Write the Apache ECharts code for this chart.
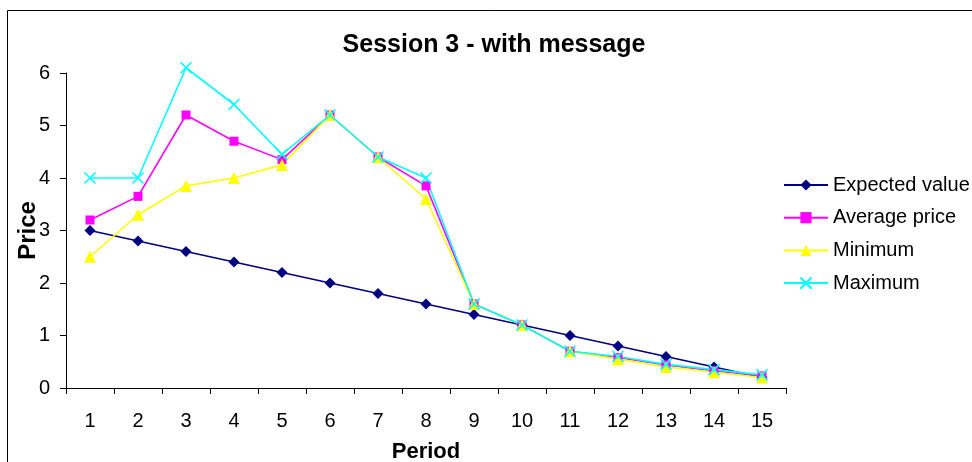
<!DOCTYPE html>
<html><head><meta charset="utf-8">
<script src="https://cdn.jsdelivr.net/npm/echarts@6/dist/echarts.min.js"></script>
<style>html,body{margin:0;padding:0;background:#fff}#c{width:972px;height:462px}</style>
</head><body><div id="c"></div>
<script>
const periods = ['1','2','3','4','5','6','7','8','9','10','11','12','13','14','15'];
const expectedValue = [3.0,2.8,2.6,2.4,2.2,2.0,1.8,1.6,1.4,1.2,1.0,0.8,0.6,0.4,0.2];
const averagePrice = [3.2,3.65,5.2,4.7,4.35,5.2,4.4,3.85,1.6,1.2,0.7,0.58,0.44,0.33,0.23];
const minimum = [2.5,3.3,3.85,4.0,4.25,5.2,4.4,3.6,1.6,1.2,0.7,0.55,0.4,0.3,0.2];
const maximum = [4.0,4.0,6.1,5.4,4.45,5.2,4.4,4.0,1.6,1.2,0.7,0.6,0.45,0.35,0.25];
const yTicks = [0,1,2,3,4,5,6];

const font = 'Liberation Sans, Arial, sans-serif';
const chart = echarts.init(document.getElementById('c'), null, {renderer:'canvas'});
function mk(name, data, color, symbol, size, extra){
  return Object.assign({
    name, type:'line', data, symbol, symbolSize:size, clip:false,
    lineStyle:{color, width:1.6},
    itemStyle:{color, borderColor:color, borderWidth:0},
    emphasis:{disabled:true}, animation:false
  }, extra||{});
}
chart.setOption({
  backgroundColor:'#fff',
  animation:false,
  title:{text:'Session 3 - with message', left:489, top:28, textAlign:'center',
    textStyle:{fontFamily:font, fontWeight:'bold', fontSize:25, color:'#000'}},
  graphic:[{type:'rect', shape:{x:7.5,y:10.5,width:1000,height:500}, style:{fill:'none', stroke:'#000', lineWidth:1}, silent:true, z:-1}],
  grid:{left:66, right:186, top:73, bottom:74, containLabel:false, outerBoundsMode:'none'},
  legend:{orient:'vertical', left:783, top:175, padding:0, itemWidth:44, itemHeight:14, itemGap:12.7,
    textStyle:{fontFamily:font, fontSize:20, color:'#000'},
    data:['Expected value','Average price','Minimum','Maximum']},
  xAxis:{type:'category', data:periods, boundaryGap:true,
    name:'Period', nameLocation:'middle', nameGap:53, nameMoveOverlap:false,
    nameTextStyle:{fontFamily:font, fontWeight:'bold', fontSize:22, color:'#000'},
    axisLine:{lineStyle:{color:'#000', width:1}},
    axisTick:{show:true, alignWithLabel:false, length:6, lineStyle:{color:'#000'}},
    axisLabel:{fontFamily:font, fontSize:20, color:'#000', margin:23, interval:0},
    splitLine:{show:false}},
  yAxis:{type:'value', min:yTicks[0], max:yTicks[yTicks.length-1], interval:1,
    name:'Price', nameLocation:'middle', nameGap:26, nameRotate:90, nameMoveOverlap:false,
    nameTextStyle:{fontFamily:font, fontWeight:'bold', fontSize:24, color:'#000'},
    axisLine:{show:true, lineStyle:{color:'#000', width:1}},
    axisTick:{show:true, length:6, lineStyle:{color:'#000'}},
    axisLabel:{fontFamily:font, fontSize:20, color:'#000', margin:16},
    splitLine:{show:false}},
  series:[
    mk('Expected value', expectedValue, '#000080', 'diamond', 11),
    mk('Average price', averagePrice, '#FF00FF', 'rect', 9),
    mk('Minimum', minimum, '#FFFF00', 'triangle', 12),
    mk('Maximum', maximum, '#00FFFF', 'path://M0,0L1,1M1,0L0,1', 11,
      {itemStyle:{color:'#00FFFF', borderColor:'#00FFFF', borderWidth:1.6}})
  ]
});
</script></body></html>
